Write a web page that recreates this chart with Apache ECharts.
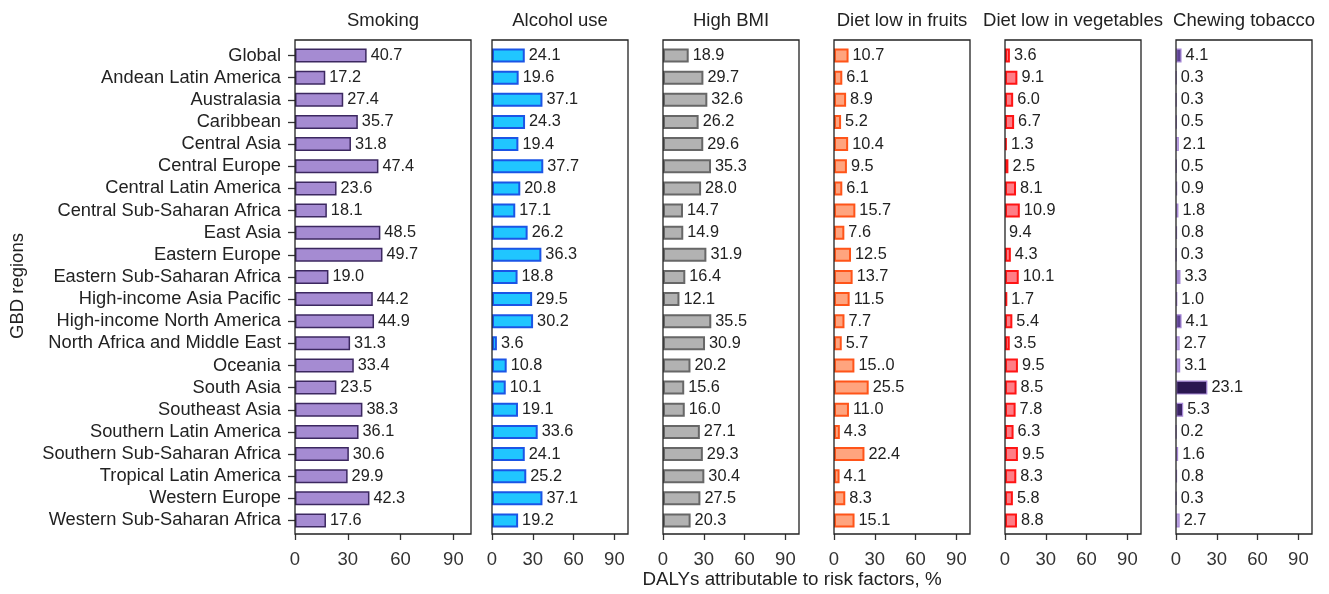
<!DOCTYPE html>
<html><head><meta charset="utf-8">
<script src="https://cdn.jsdelivr.net/npm/echarts@6/dist/echarts.min.js"></script>
<style>html,body{margin:0;padding:0;background:#fff}#c{width:1329px;height:594px}</style>
</head><body><div id="c"></div>
<script>
const regions = ['Global','Andean Latin America','Australasia','Caribbean','Central Asia','Central Europe','Central Latin America','Central Sub-Saharan Africa','East Asia','Eastern Europe','Eastern Sub-Saharan Africa','High-income Asia Pacific','High-income North America','North Africa and Middle East','Oceania','South Asia','Southeast Asia','Southern Latin America','Southern Sub-Saharan Africa','Tropical Latin America','Western Europe','Western Sub-Saharan Africa'];
const panelTitles = ['Smoking','Alcohol use','High BMI','Diet low in fruits','Diet low in vegetables','Chewing tobacco'];
const smoking = [40.7,17.2,27.4,35.7,31.8,47.4,23.6,18.1,48.5,49.7,19.0,44.2,44.9,31.3,33.4,23.5,38.3,36.1,30.6,29.9,42.3,17.6];
const alcohol = [24.1,19.6,37.1,24.3,19.4,37.7,20.8,17.1,26.2,36.3,18.8,29.5,30.2,3.6,10.8,10.1,19.1,33.6,24.1,25.2,37.1,19.2];
const highBMI = [18.9,29.7,32.6,26.2,29.6,35.3,28.0,14.7,14.9,31.9,16.4,12.1,35.5,30.9,20.2,15.6,16.0,27.1,29.3,30.4,27.5,20.3];
const fruits = [10.7,6.1,8.9,5.2,10.4,9.5,6.1,15.7,7.6,12.5,13.7,11.5,7.7,5.7,15.0,25.5,11.0,4.3,22.4,4.1,8.3,15.1];
const vegetables = [3.6,9.1,6.0,6.7,1.3,2.5,8.1,10.9,9.4,4.3,10.1,1.7,5.4,3.5,9.5,8.5,7.8,6.3,9.5,8.3,5.8,8.8];
const chewing = [4.1,0.3,0.3,0.5,2.1,0.5,0.9,1.8,0.8,0.3,3.3,1.0,4.1,2.7,3.1,23.1,5.3,0.2,1.6,0.8,0.3,2.7];
// label text exactly as printed in the figure where it differs from the value
const fruitsLabelText = {'Oceania':'15..0'};
// regions whose bar is not drawn in the figure (label only)
const vegetablesNoBar = ['East Asia'];
const xTicks = [0,30,60,90];
const xLabel = 'DALYs attributable to risk factors, %';
const yLabel = 'GBD regions';

const styles = [
  {fill:'#a58bd2', border:'#3c2860', bw:1.5},
  {fill:'#20c6ff', border:'#1b55e6', bw:2},
  {fill:'#b2b2b2', border:'#676767', bw:2},
  {fill:'#ffa47e', border:'#ff5419', bw:2},
  {fill:'#ff7d86', border:'#ff1414', bw:2},
  {fill:null, border:'#a98bd8', bw:1.2}
];
const panelLeft = [295, 492, 663, 834, 1005, 1176];
const panelWidth = [176, 136, 136, 136, 136, 136];
const frameTop = 40, frameHeight = 494;
const gridTop = 44.5, gridHeight = 487;
const FONT = 'Arial, "Liberation Sans", sans-serif';

function lerpColor(a,b,t){
  const pa=[1,3,5].map(i=>parseInt(a.substr(i,2),16)), pb=[1,3,5].map(i=>parseInt(b.substr(i,2),16));
  return 'rgb('+pa.map((v,i)=>Math.round(v+(pb[i]-v)*t)).join(',')+')';
}
const chewStops = [[0,'#ffffff'],[1,'#e8def6'],[3,'#b8a0e2'],[4.1,'#5e4394'],[5.5,'#36205f'],[25,'#2a1650']];
function chewColor(v){
  for(let i=1;i<chewStops.length;i++){
    if(v<=chewStops[i][0]){const [v0,c0]=chewStops[i-1],[v1,c1]=chewStops[i];return lerpColor(c0,c1,(v-v0)/(v1-v0));}
  }
  return chewStops[chewStops.length-1][1];
}

const allData = [smoking, alcohol, highBMI, fruits, vegetables, chewing];
const grids=[], xAxes=[], yAxes=[], series=[];
allData.forEach((vals,k)=>{
  grids.push({left:panelLeft[k], top:gridTop, width:panelWidth[k], height:gridHeight, show:false});
  xAxes.push({type:'value', gridIndex:k, min:0, max:100, interval:30, offset:frameTop+frameHeight-gridTop-gridHeight,
    axisLine:{show:false},
    axisTick:{show:true, length:6, lineStyle:{color:'#333', width:1.3}, customValues:xTicks},
    axisLabel:{color:'#333', fontSize:18.5, fontFamily:FONT, margin:16, customValues:xTicks},
    splitLine:{show:false}});
  yAxes.push({type:'category', gridIndex:k, data:regions, inverse:true,
    axisLine:{show:false},
    axisTick:{show:k===0, interval:0, alignWithLabel:true, length:7, lineStyle:{color:'#333', width:1.3}},
    axisLabel:{show:k===0, interval:0, hideOverlap:false, color:'#222', fontSize:18.3, fontFamily:FONT, margin:14}});
  const st = styles[k];
  const data = vals.map((v,i)=>{
    const noBar = k===4 && vegetablesNoBar.includes(regions[i]);
    const item = {value: noBar ? 0 : v};
    if(noBar) item.itemStyle = {borderWidth:0, color:'rgba(0,0,0,0)'};
    if(k===5) item.itemStyle = {color: chewColor(v)};
    return item;
  });
  series.push({type:'bar', xAxisIndex:k, yAxisIndex:k, data:data, barWidth:14,
    itemStyle:{color: st.fill || '#ccc', borderColor: st.border, borderWidth: st.bw},
    label:{show:true, position:'right', distance:4, color:'#222', fontSize:16.3, fontFamily:FONT,
      formatter:(p)=>{ if(k===3 && fruitsLabelText[regions[p.dataIndex]]) return fruitsLabelText[regions[p.dataIndex]]; return vals[p.dataIndex].toFixed(1);} },
    animation:false, silent:true});
});

const graphics = [];
panelTitles.forEach((t,k)=>{
  graphics.push({type:'rect', shape:{x:panelLeft[k], y:frameTop, width:panelWidth[k], height:frameHeight},
    style:{fill:null, stroke:'#222', lineWidth:1.3}, z:10});
  graphics.push({type:'text', x:panelLeft[k]+panelWidth[k]/2, y:21,
    style:{text:t, fill:'#222', font:'18.5px ' + FONT, textAlign:'center', textVerticalAlign:'middle'}});
});
graphics.push({type:'text', x:792, y:580, style:{text:xLabel, fill:'#222', font:'18.8px ' + FONT, textAlign:'center', textVerticalAlign:'middle'}});
graphics.push({type:'text', x:18, y:286, rotation:Math.PI/2, style:{text:yLabel, fill:'#222', font:'18.5px ' + FONT, textAlign:'center', textVerticalAlign:'middle'}});

const chart = echarts.init(document.getElementById('c'), null, {renderer:'canvas'});
chart.setOption({animation:false, backgroundColor:'#fff', grid:grids, xAxis:xAxes, yAxis:yAxes, series:series, graphic:graphics});
</script></body></html>
